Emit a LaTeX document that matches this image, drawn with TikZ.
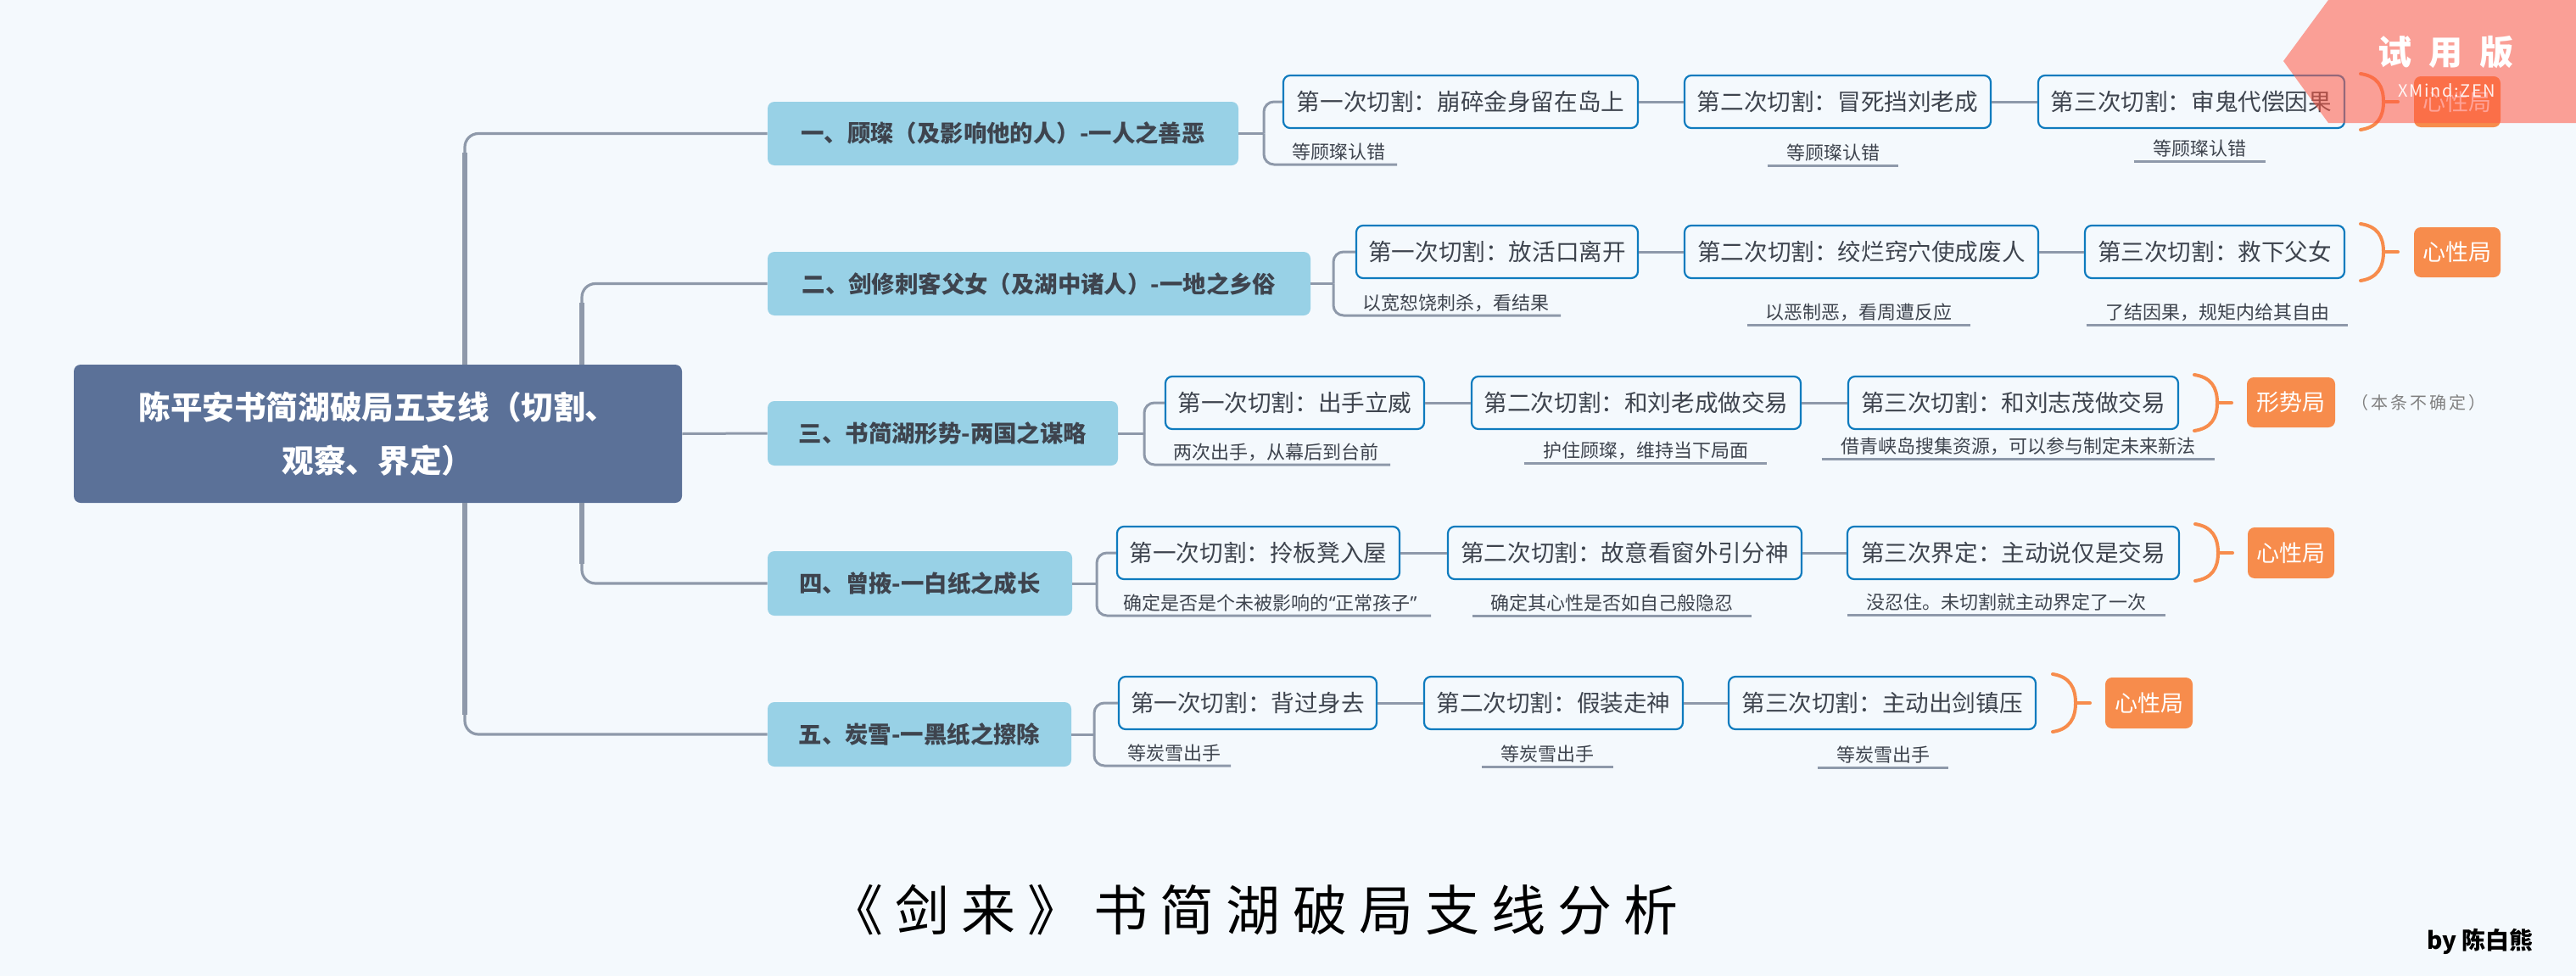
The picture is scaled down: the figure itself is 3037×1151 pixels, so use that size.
\documentclass[tikz,border=0pt]{standalone}
\usepackage{fontspec}
\setmainfont{Noto Sans CJK SC}
\newfontfamily\titlefont[LetterSpace=22]{Noto Sans CJK SC}
\newfontfamily\latinq{Noto Sans}
\definecolor{bg}{RGB}{244,249,253}
\definecolor{rootc}{RGB}{91,113,152}
\definecolor{branchc}{RGB}{152,209,230}
\definecolor{linec}{RGB}{142,153,170}
\definecolor{childb}{RGB}{14,123,190}
\definecolor{txt}{RGB}{62,68,78}
\definecolor{orangec}{RGB}{247,140,76}
\definecolor{wmc}{RGB}{255,90,70}
\definecolor{graytxt}{RGB}{128,128,128}
\newcommand\rkRoot{\bfseries\fontsize{18.8pt}{31.5pt}\selectfont}
\newcommand\rkBranch{\bfseries\fontsize{13.7pt}{16pt}\selectfont}
\newcommand\rkChild{\fontsize{13.8pt}{16pt}\selectfont}
\newcommand\rkNote{\fontsize{11pt}{13pt}\selectfont}
\newcommand\rkTag{\fontsize{13.5pt}{16pt}\selectfont}
\newcommand\rkGray{\addfontfeatures{LetterSpace=15}\fontsize{10pt}{12pt}\selectfont}
\newcommand\rkTitle{\titlefont\fontsize{32pt}{36pt}\selectfont}
\newcommand\rkBy{\bfseries\fontsize{14pt}{16pt}\selectfont}
\newcommand\rkWm{\bfseries\fontsize{20pt}{24pt}\selectfont}
\newcommand\rkWmS{\addfontfeatures{LetterSpace=8}\fontsize{10pt}{12pt}\selectfont}
\newcommand\rkbrace[4]{%
 \draw[bracel] (#1,#2) .. controls (#1+20,#2+3) and (#1+27,#4-18) .. (#1+27,#4) .. controls (#1+27,#4+18) and (#1+20,#3-3) .. (#1,#3);
 \draw[bracel] (#1+27,#4) -- (#1+44,#4);}
\begin{document}
\begin{tikzpicture}[x=0.5pt,y=-0.5pt,
  wh/.style 2 args={minimum width={#1*0.5pt},minimum height={#2*0.5pt}},
  mw/.style={minimum width={#1*0.5pt}},
  rootbox/.style={fill=rootc, rounded corners=4pt, text=white, font=\rkRoot, align=center, inner sep=0pt},
  branchbox/.style={fill=branchc, rounded corners=4pt, text=txt, font=\rkBranch, inner sep=0pt},
  childbox/.style={draw=childb, line width=1.1pt, fill=bg, rounded corners=4pt, text=txt, font=\rkChild, inner xsep=3pt, inner ysep=0pt, minimum height=31pt},
  tagbox/.style={fill=orangec, rounded corners=4pt, text=white, font=\rkTag, inner sep=0pt},
  note/.style={text=txt, font=\rkNote, inner xsep=0pt, inner ysep=1pt, text height=0.8em, text depth=0.2em},
  unote/.style={note, anchor=south, append after command={(\tikzlastnode.south west) edge[uline] (\tikzlastnode.south east)}},
  conn/.style={draw=linec, line width=1.5pt},
  uline/.style={draw=linec, line width=1.5pt},
  trunk/.style={draw=linec, line width=1.6pt, rounded corners=8pt},
  thickv/.style={draw=linec, line width=2.8pt},
  elbow/.style={draw=linec, line width=1.5pt, rounded corners=6pt},
  bracel/.style={draw=orangec, line width=2pt, line cap=round},
]
\fill[bg] (0,0) rectangle (3037,1151);
\useasboundingbox (0,0) rectangle (3037,1151);

% root and branches
\node[rootbox, wh={717}{163}] (root) at (445.5,511.5) {陈平安书简湖破局五支线（切割、\\观察、界定）};
\node[branchbox, wh={555}{75}] (b1) at (1182.5,157.5) {一、顾璨（及影响他的人）-一人之善恶};
\node[branchbox, wh={640}{75}] (b2) at (1225,334.5) {二、剑修刺客父女（及湖中诸人）-一地之乡俗};
\node[branchbox, wh={413}{76}] (b3) at (1111.5,511) {三、书简湖形势-两国之谋略};
\node[branchbox, wh={359}{76}] (b4) at (1084.5,688) {四、曾掖-一白纸之成长};
\node[branchbox, wh={358}{76}] (b5) at (1084,866) {五、炭雪-一黑纸之擦除};

% trunks
\coordinate (ro) at (548,511);
\coordinate (ri) at (686,511);
\coordinate (rot) at (548,180);
\coordinate (rob) at (548,843);
\coordinate (rit) at (686,357);
\coordinate (rib) at (686,665);
\draw[thickv] (root.north -| ro) -- (rot);
\draw[thickv] (root.south -| ro) -- (rob);
\draw[thickv] (root.north -| ri) -- (rit);
\draw[thickv] (root.south -| ri) -- (rib);
\draw[trunk] (root.north -| ro) |- (b1.west);
\draw[trunk] (root.south -| ro) |- (b5.west);
\draw[trunk] (root.north -| ri) |- (b2.west);
\draw[trunk] (root.south -| ri) |- (b4.west);
\draw[conn] (root.east) -- (b3.west);

% children
\node[childbox, mw=418] (c11) at (1722,120) {第一次切割：崩碎金身留在岛上};
\node[childbox, mw=361] (c12) at (2166.5,120) {第二次切割：冒死挡刘老成};
\node[childbox, mw=361] (c13) at (2583.5,120) {第三次切割：审鬼代偿因果};
\node[childbox, mw=332] (c21) at (1765,297) {第一次切割：放活口离开};
\node[childbox, mw=417] (c22) at (2194.5,297) {第二次切割：绞烂窍穴使成废人};
\node[childbox, mw=306] (c23) at (2611,297) {第三次切割：救下父女};
\node[childbox, mw=305] (c31) at (1526.5,475) {第一次切割：出手立威};
\node[childbox, mw=388] (c32) at (1929,475) {第二次切割：和刘老成做交易};
\node[childbox, mw=389] (c33) at (2373.5,475) {第三次切割：和刘志茂做交易};
\node[childbox, mw=333] (c41) at (1483.5,652) {第一次切割：拎板凳入屋};
\node[childbox, mw=417] (c42) at (1915.5,652) {第二次切割：故意看窗外引分神};
\node[childbox, mw=391] (c43) at (2373.5,652) {第三次界定：主动说仅是交易};
\node[childbox, mw=304] (c51) at (1471,829) {第一次切割：背过身去};
\node[childbox, mw=305] (c52) at (1831.5,829) {第二次切割：假装走神};
\node[childbox, mw=362] (c53) at (2219,829) {第三次切割：主动出剑镇压};

\foreach \r in {1,...,5}{
  \draw[conn] (c\r1.east) -- (c\r2.west);
  \draw[conn] (c\r2.east) -- (c\r3.west);
}

% notes
\node[note, anchor=south east, inner xsep=6.5pt] (n11) at (1647,194) {等顾璨认错};
\node[unote, mw=154] (n12) at (2161,195) {等顾璨认错};
\node[unote, mw=155] (n13) at (2593.5,190) {等顾璨认错};
\node[note, anchor=south east, inner xsep=6.5pt] (n21) at (1840,372) {以宽恕饶刺杀，看结果};
\node[unote, mw=263] (n22) at (2191.5,383) {以恶制恶，看周遭反应};
\node[unote, mw=308] (n23) at (2614,383) {了结因果，规矩内给其自由};
\node[note, anchor=south east, inner xsep=6.5pt] (n31) at (1639,548) {两次出手，从幕后到台前};
\node[unote, mw=286] (n32) at (1940,546) {护住顾璨，维持当下局面};
\node[unote, mw=463] (n33) at (2379.5,541) {借青峡岛搜集资源，可以参与制定未来新法};
\node[note, anchor=south east, inner xsep=8pt] (n41) at (1687,726) {确定是否是个未被影响的{\latinq “}正常孩子{\latinq ”}};
\node[unote, mw=329] (n42) at (1900.5,726) {确定其心性是否如自己般隐忍};
\node[unote, mw=375] (n43) at (2365.5,725) {没忍住。未切割就主动界定了一次};
\node[note, anchor=south east, inner xsep=5.5pt] (n51) at (1451,903) {等炭雪出手};
\node[unote, mw=155] (n52) at (1824.5,904) {等炭雪出手};
\node[unote, mw=154] (n53) at (2220,905) {等炭雪出手};

% elbows
\coordinate (e1) at (1490,157.5);
\coordinate (e2) at (1572,334.5);
\coordinate (e3) at (1349,511);
\coordinate (e4) at (1293,688);
\coordinate (e5) at (1290,866);
\foreach \r in {1,...,5}{
  \draw[conn] (b\r.east) -- (e\r);
  \draw[elbow] (e\r) |- (c\r1.west);
  \draw[elbow] (e\r) |- (n\r1.south east);
}

% braces and tags
\rkbrace{2783}{87}{153}{120}
\rkbrace{2783}{264}{331}{297}
\rkbrace{2587}{442}{508}{475}
\rkbrace{2588}{618}{685}{652}
\rkbrace{2420}{795}{863}{829}
\node[tagbox, wh={102}{60}] (k1) at (2897,120) {心性局};
\node[tagbox, wh={102}{59}] (k2) at (2897,297.5) {心性局};
\node[tagbox, wh={104}{59}] (k3) at (2701,474.5) {形势局};
\node[tagbox, wh={102}{60}] (k4) at (2701,652) {心性局};
\node[tagbox, wh={103}{60}] (k5) at (2533.5,829) {心性局};
\node[text=graytxt, font=\rkGray] (unc) at (2851,475) {（本条不确定）};

% title
\node[font=\rkTitle, text=black] (title) at (1478,1073) {《剑来》书简湖破局支线分析};
\node[font=\rkBy, text=black] (by) at (2924,1110) {by 陈白熊};

% watermark
\fill[wmc, fill opacity=0.56] (2692,72) -- (2745,0) -- (3037,0) -- (3037,145) -- (2745,145) -- cycle;
\node[text=white, font=\rkWm] (wm) at (2883,62) {试\hspace{0.5em}用\hspace{0.5em}版};
\node[text=white, font=\rkWmS, opacity=0.9] (wmx) at (2885,107) {XMind:ZEN};
\end{tikzpicture}
\end{document}
